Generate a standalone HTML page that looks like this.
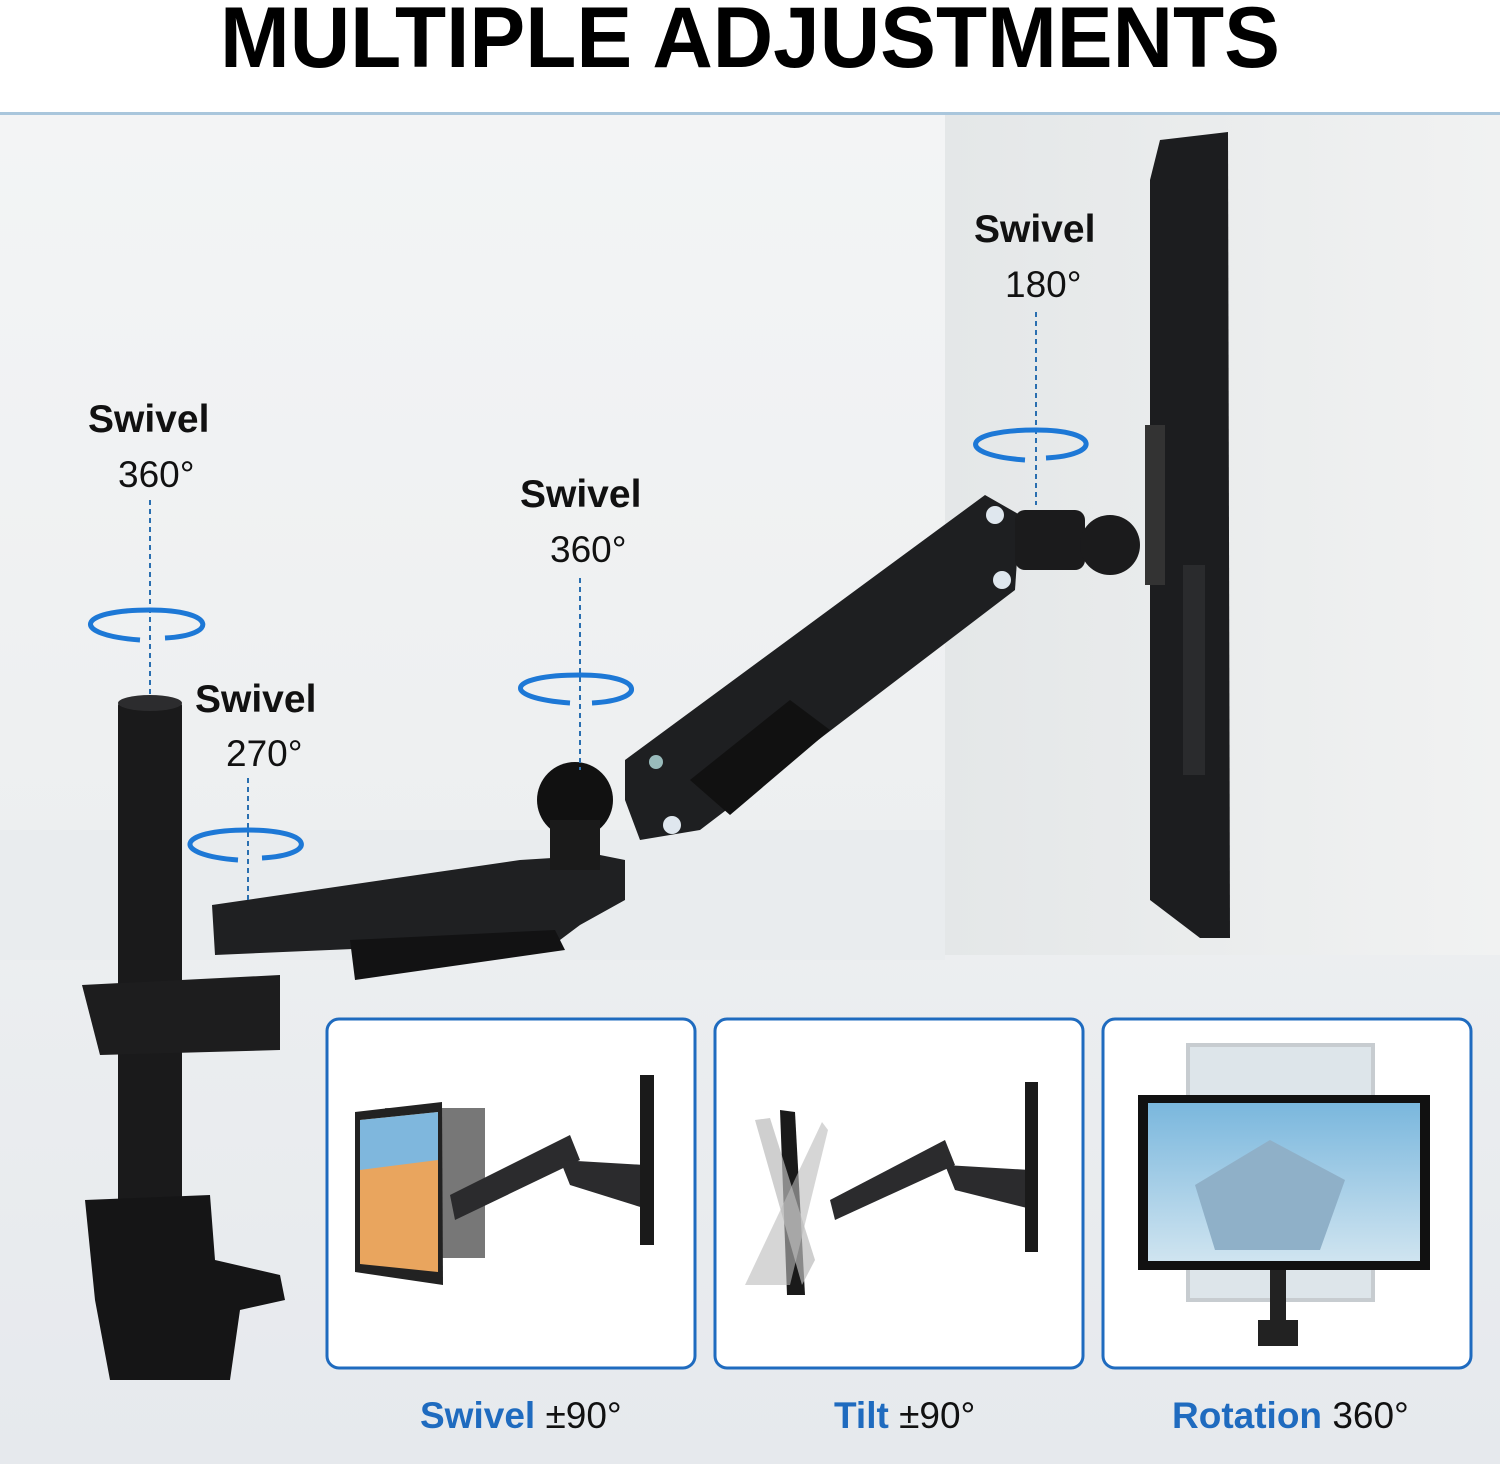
<!DOCTYPE html>
<html><head><meta charset="utf-8"><style>
html,body{margin:0;padding:0;width:1500px;height:1464px;overflow:hidden;background:#fff}
svg{display:block}
text{font-family:"Liberation Sans",sans-serif}
</style></head><body>
<svg width="1500" height="1464" viewBox="0 0 1500 1464" xmlns="http://www.w3.org/2000/svg">
<defs>
<linearGradient id="bg" x1="0" y1="0" x2="0" y2="1">
<stop offset="0" stop-color="#f4f5f6"/><stop offset="0.5" stop-color="#eef0f1"/><stop offset="1" stop-color="#e6e9ed"/>
</linearGradient>
<linearGradient id="wall" x1="0" y1="0" x2="1" y2="0">
<stop offset="0" stop-color="#e4e7e8"/><stop offset="1" stop-color="#f1f2f2"/>
</linearGradient>
<linearGradient id="scr" x1="0" y1="0" x2="0" y2="1">
<stop offset="0" stop-color="#7ab7dd"/><stop offset="1" stop-color="#cfe4f0"/>
</linearGradient>
</defs>
<rect x="0" y="0" width="1500" height="1464" fill="url(#bg)"/>
<rect x="0" y="0" width="1500" height="112" fill="#fff"/>
<rect x="0" y="112" width="1500" height="3" fill="#a9c6dc"/>
<rect x="945" y="115" width="555" height="840" fill="url(#wall)"/>
<rect x="0" y="830" width="945" height="130" fill="#e9ecee"/>
<text x="750" y="67" text-anchor="middle" font-size="86" font-weight="bold" textLength="1060" lengthAdjust="spacingAndGlyphs" fill="#000">MULTIPLE ADJUSTMENTS</text>

<!-- monitor -->
<path d="M1160 140 L1228 132 L1230 938 L1200 938 L1150 900 L1150 180 Z" fill="#1c1d1f"/>
<rect x="1183" y="565" width="22" height="210" fill="#2a2b2d"/>
<rect x="1145" y="425" width="20" height="160" fill="#333"/>
<!-- pole -->
<rect x="118" y="700" width="64" height="560" rx="6" fill="#1a1a1b"/>
<ellipse cx="150" cy="703" rx="32" ry="8" fill="#2c2c2e"/>
<path d="M82 985 L280 975 L280 1050 L100 1055 Z" fill="#1d1d1e"/>
<path d="M85 1200 L210 1195 L215 1260 L280 1275 L285 1300 L240 1310 L230 1380 L110 1380 L95 1300 Z" fill="#151516"/>
<!-- lower arm -->
<path d="M212 905 L520 860 L600 855 L625 860 L625 900 L580 925 L560 940 L215 955 Z" fill="#1f2022"/>
<path d="M350 940 L555 930 L565 950 L355 980 Z" fill="#121213"/>
<circle cx="575" cy="800" r="38" fill="#111"/>
<rect x="550" y="820" width="50" height="50" fill="#1a1a1a"/>
<!-- upper arm -->
<path d="M625 760 L985 495 L1020 515 L1015 590 L700 830 L640 840 L625 800 Z" fill="#1e1f21"/>
<path d="M690 780 L790 700 L830 730 L730 815 Z" fill="#111"/>
<circle cx="995" cy="515" r="9" fill="#dfe7ee"/><circle cx="1002" cy="580" r="9" fill="#dfe7ee"/>
<circle cx="672" cy="825" r="9" fill="#dfe7ee"/><circle cx="656" cy="762" r="7" fill="#9bb"/>
<rect x="1015" y="510" width="70" height="60" rx="10" fill="#1b1b1c"/>
<circle cx="1110" cy="545" r="30" fill="#1b1b1c"/>

<!-- labels with dashed lines & rotation arrows -->
<g fill="#111" font-size="40">
<text x="88" y="432" font-weight="bold" font-size="39">Swivel</text><text x="118" y="487" font-size="37">360°</text>
<text x="195" y="712" font-weight="bold" font-size="39">Swivel</text><text x="226" y="766" font-size="37">270°</text>
<text x="520" y="507" font-weight="bold" font-size="39">Swivel</text><text x="550" y="562" font-size="37">360°</text>
<text x="974" y="242" font-weight="bold" font-size="39">Swivel</text><text x="1005" y="297" font-size="37">180°</text>
</g>
<g stroke="#2a6fb0" stroke-width="2" stroke-dasharray="5,4" fill="none">
<line x1="150" y1="500" x2="150" y2="698"/>
<line x1="248" y1="778" x2="248" y2="900"/>
<line x1="580" y1="578" x2="580" y2="770"/>
<line x1="1036" y1="312" x2="1036" y2="505"/>
</g>
<g stroke="#1d78d6" stroke-width="5" fill="none">
<path d="M140 640 C70 635 75 610 150 610 C215 610 220 635 165 638"/>
<path d="M238 860 C170 855 175 830 248 830 C315 830 318 855 262 858"/>
<path d="M570 703 C500 698 505 675 580 675 C645 675 648 700 592 703"/>
<path d="M1025 460 C955 455 960 430 1036 430 C1100 430 1102 455 1046 458"/>
</g>

<!-- boxes -->
<g fill="#fff" stroke="#1f6bbf" stroke-width="3">
<rect x="327" y="1019" width="368" height="349" rx="12"/>
<rect x="715" y="1019" width="368" height="349" rx="12"/>
<rect x="1103" y="1019" width="368" height="349" rx="12"/>
</g>
<!-- box1 -->
<rect x="385" y="1108" width="100" height="150" fill="#777"/>
<path d="M355 1112 L442 1102 L443 1285 L355 1272 Z" fill="#222"/>
<path d="M360 1120 L438 1112 L438 1272 L360 1264 Z" fill="#e9a55e"/>
<path d="M360 1120 L438 1112 L438 1160 L360 1170 Z" fill="#7fb7dd"/>
<path d="M450 1195 L570 1135 L580 1160 L455 1220 Z" fill="#2b2b2d"/>
<path d="M560 1160 L645 1165 L650 1210 L570 1185 Z" fill="#2b2b2d"/>
<rect x="640" y="1075" width="14" height="170" fill="#1a1a1a"/>
<!-- box2 -->
<path d="M780 1110 L795 1112 L805 1295 L787 1295 Z" fill="#1a1a1a"/>
<path d="M755 1120 L770 1118 L815 1260 L802 1285 Z" fill="#bbb" opacity="0.7"/>
<path d="M822 1122 L828 1130 L790 1285 L745 1285 Z" fill="#bbb" opacity="0.6"/>
<path d="M830 1200 L945 1140 L955 1165 L835 1220 Z" fill="#2b2b2d"/>
<path d="M945 1165 L1030 1170 L1035 1210 L955 1190 Z" fill="#2b2b2d"/>
<rect x="1025" y="1082" width="13" height="170" fill="#1a1a1a"/>
<!-- box3 -->
<rect x="1188" y="1045" width="185" height="255" fill="#dde5ea" stroke="#c7ccd0" stroke-width="4"/>
<rect x="1138" y="1095" width="292" height="175" fill="#111"/>
<rect x="1148" y="1103" width="272" height="158" fill="url(#scr)"/>
<path d="M1195 1185 L1270 1140 L1345 1180 L1320 1250 L1215 1250 Z" fill="#8fb0c8"/>
<rect x="1270" y="1270" width="16" height="55" fill="#222"/>
<rect x="1258" y="1320" width="40" height="26" fill="#222"/>

<text x="420" y="1428" font-size="37" font-weight="bold" fill="#1f6bbf">Swivel <tspan fill="#111" font-weight="normal">±90°</tspan></text>
<text x="834" y="1428" font-size="37" font-weight="bold" fill="#1f6bbf">Tilt <tspan fill="#111" font-weight="normal">±90°</tspan></text>
<text x="1172" y="1428" font-size="37" font-weight="bold" fill="#1f6bbf">Rotation <tspan fill="#111" font-weight="normal">360°</tspan></text>
</svg>
</body></html>
